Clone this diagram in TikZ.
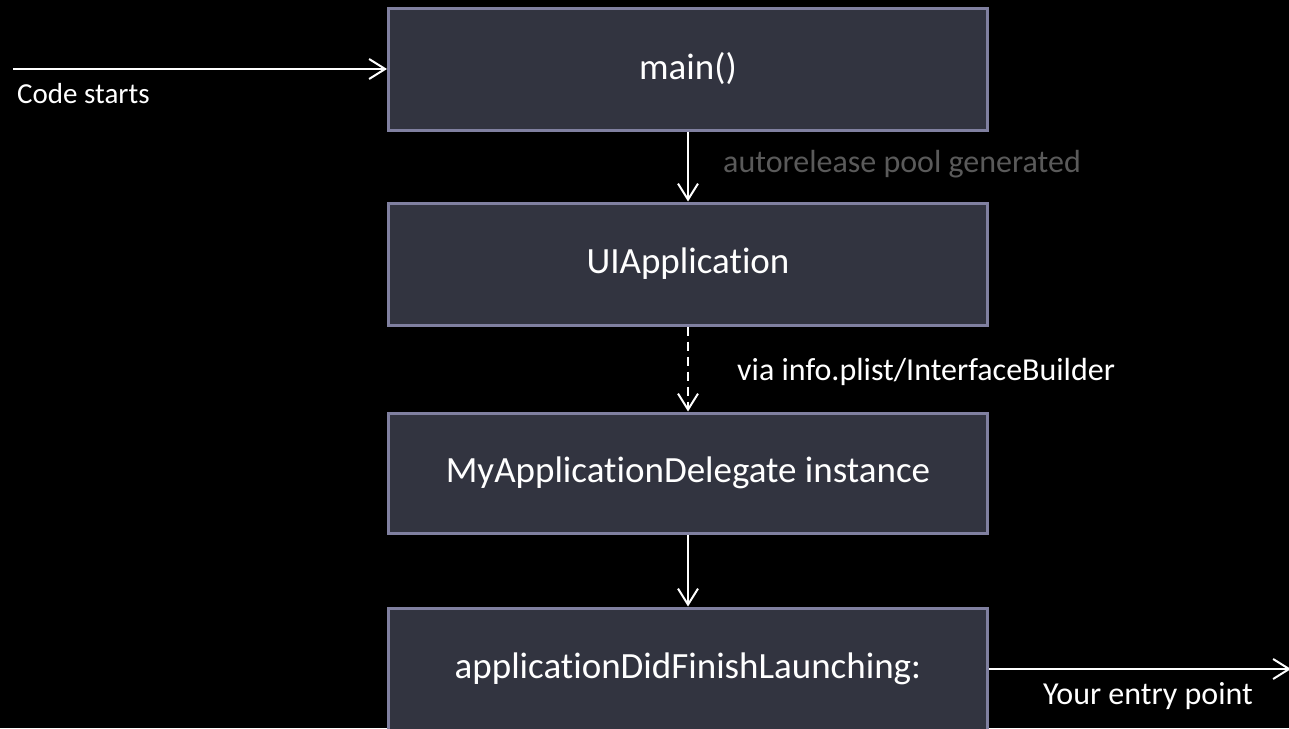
\documentclass[tikz,border=0pt]{standalone}
\usepackage{fontspec}
\setmainfont{Carlito}[Ligatures=NoCommon]
\usetikzlibrary{arrows.meta}
\definecolor{boxfill}{RGB}{50,52,64}
\definecolor{boxline}{RGB}{128,128,160}
\definecolor{graytxt}{RGB}{90,90,90}
\tikzset{
  flowbox/.style={draw=boxline, line width=3pt, fill=boxfill, minimum width=599pt, minimum height=122pt, inner sep=0pt, text=white, font=\fontsize{37}{44}\selectfont},
  conn/.style={draw=white, line width=2pt, -{Straight Barb[length=16pt,width=20pt,line width=2pt]}},
  lbl/.style={text=white, font=\fontsize{32}{38}\selectfont, inner sep=0pt, anchor=west}
}
\begin{document}
\begin{tikzpicture}[x=1pt,y=-1pt]
\clip (0,0) rectangle (1289,728);
\fill[black] (0,0) rectangle (1289,728);
\node[flowbox] (main) at (688,69) {main()};
\node[flowbox] (uiapp) at (688,264) {UIApplication};
\node[flowbox, minimum height=120pt] (deleg) at (688,473) {MyApplicationDelegate instance};
\node[flowbox] (finish) at (688,669) {applicationDidFinishLaunching:};
\coordinate (start) at (13,69);
\coordinate (entry) at (1291,669);
\draw[conn] (start) -- (main.west);
\draw[conn] (main.south) -- (uiapp.north);
\draw[conn, dash pattern=on 9pt off 6pt] (uiapp.south) -- (deleg.north);
\draw[conn] (deleg.south) -- (finish.north);
\draw[conn] (finish.east) -- (entry);
\node[lbl, font=\fontsize{29}{35}\selectfont] (l1) at (17,94) {Code starts};
\node[lbl, text=graytxt] (l2) at (723,164) {autorelease pool generated};
\node[lbl] (l3) at (737,372) {via info.plist/InterfaceBuilder};
\node[lbl] (l4) at (1043,696) {Your entry point};
\end{tikzpicture}
\end{document}
